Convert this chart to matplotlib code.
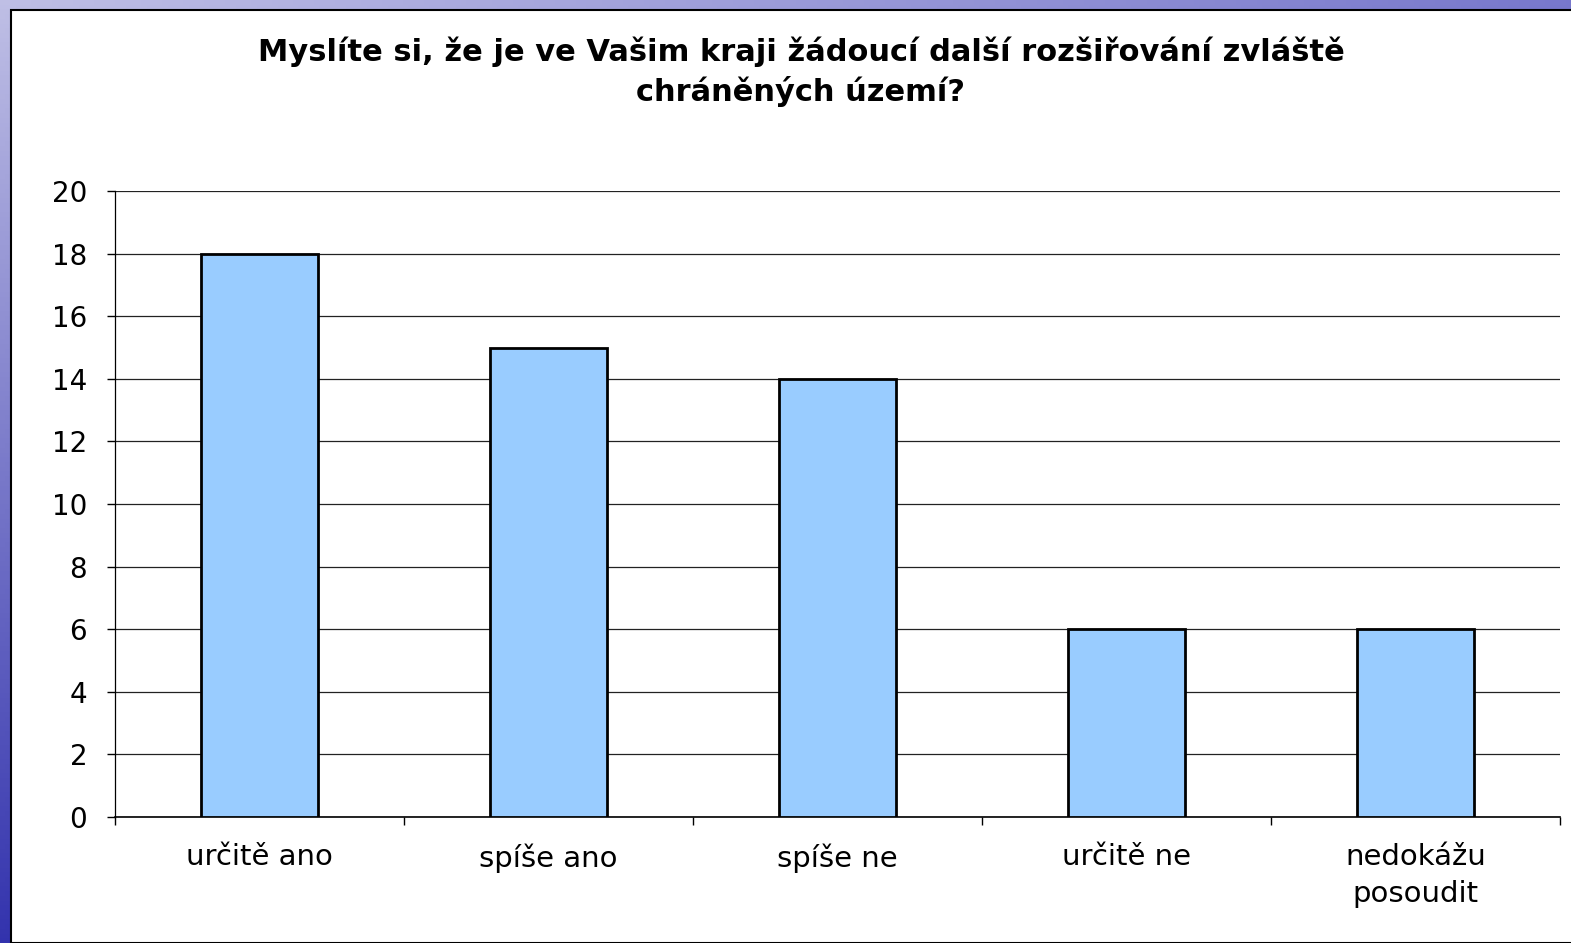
import numpy as np
import matplotlib.pyplot as plt
from matplotlib.patches import Rectangle

categories = ['určitě ano', 'spíše ano', 'spíše ne', 'určitě ne', 'nedokážu\nposoudit']
values = [18, 15, 14, 6, 6]
title = 'Myslíte si, že je ve Vašim kraji žádoucí další rozšiřování zvláště\nchráněných území?'

W, H = 1571, 943
fig = plt.figure(figsize=(W / 100, H / 100), dpi=100)
plt.rcParams['font.family'] = ['DejaVu Sans']

# slide background gradient (lavender top-left -> dark blue bottom-left, purple top-right)
bg = fig.add_axes([0, 0, 1, 1])
yy, xx = np.mgrid[0:1:200j, 0:1:300j]
c_tl = np.array([0.75, 0.75, 0.90])
c_tr = np.array([0.47, 0.47, 0.80])
c_bl = np.array([0.20, 0.20, 0.68])
img = c_tl + (c_tr - c_tl) * xx[..., None] + (c_bl - c_tl) * yy[..., None]
bg.imshow(np.clip(img, 0, 1), aspect='auto', extent=[0, 1, 0, 1], origin='upper')
bg.set_xlim(0, 1)
bg.set_ylim(0, 1)
bg.axis('off')
bg.add_patch(Rectangle((11 / W, 0), 1, 1 - 10 / H, facecolor='white',
                       edgecolor='black', linewidth=1.5))

ax = fig.add_axes([115 / W, (H - 817) / H, (1560 - 115) / W, (817 - 191) / H])
ax.set_facecolor('none')
x = np.arange(len(categories))
ax.bar(x, values, width=0.405, color='#99ccff', edgecolor='black', linewidth=2, zorder=3)

ax.set_ylim(0, 20)
ax.set_yticks(range(0, 21, 2))
ax.set_xlim(-0.5, len(categories) - 0.5)
ax.set_xticks(x)
ax.set_xticklabels(categories, fontsize=21, linespacing=1.4)
ax.set_xticks(np.arange(-0.5, len(categories)), minor=True)
ax.tick_params(axis='x', which='major', length=0, pad=19)
ax.tick_params(axis='x', which='minor', length=6, width=1, direction='out')
ax.tick_params(axis='y', length=6, width=1, direction='out', labelsize=20, pad=14)
ax.yaxis.grid(True, color='#222222', linewidth=0.9, zorder=0)
for s in ['top', 'right']:
    ax.spines[s].set_visible(False)
ax.spines['left'].set_linewidth(0.9)
ax.spines['bottom'].set_linewidth(1.2)

fig.text(801 / W, 1 - 72 / H, title, ha='center', va='center', fontsize=22,
         fontweight='bold', linespacing=1.35)

fig.savefig('out.png', dpi=100)
